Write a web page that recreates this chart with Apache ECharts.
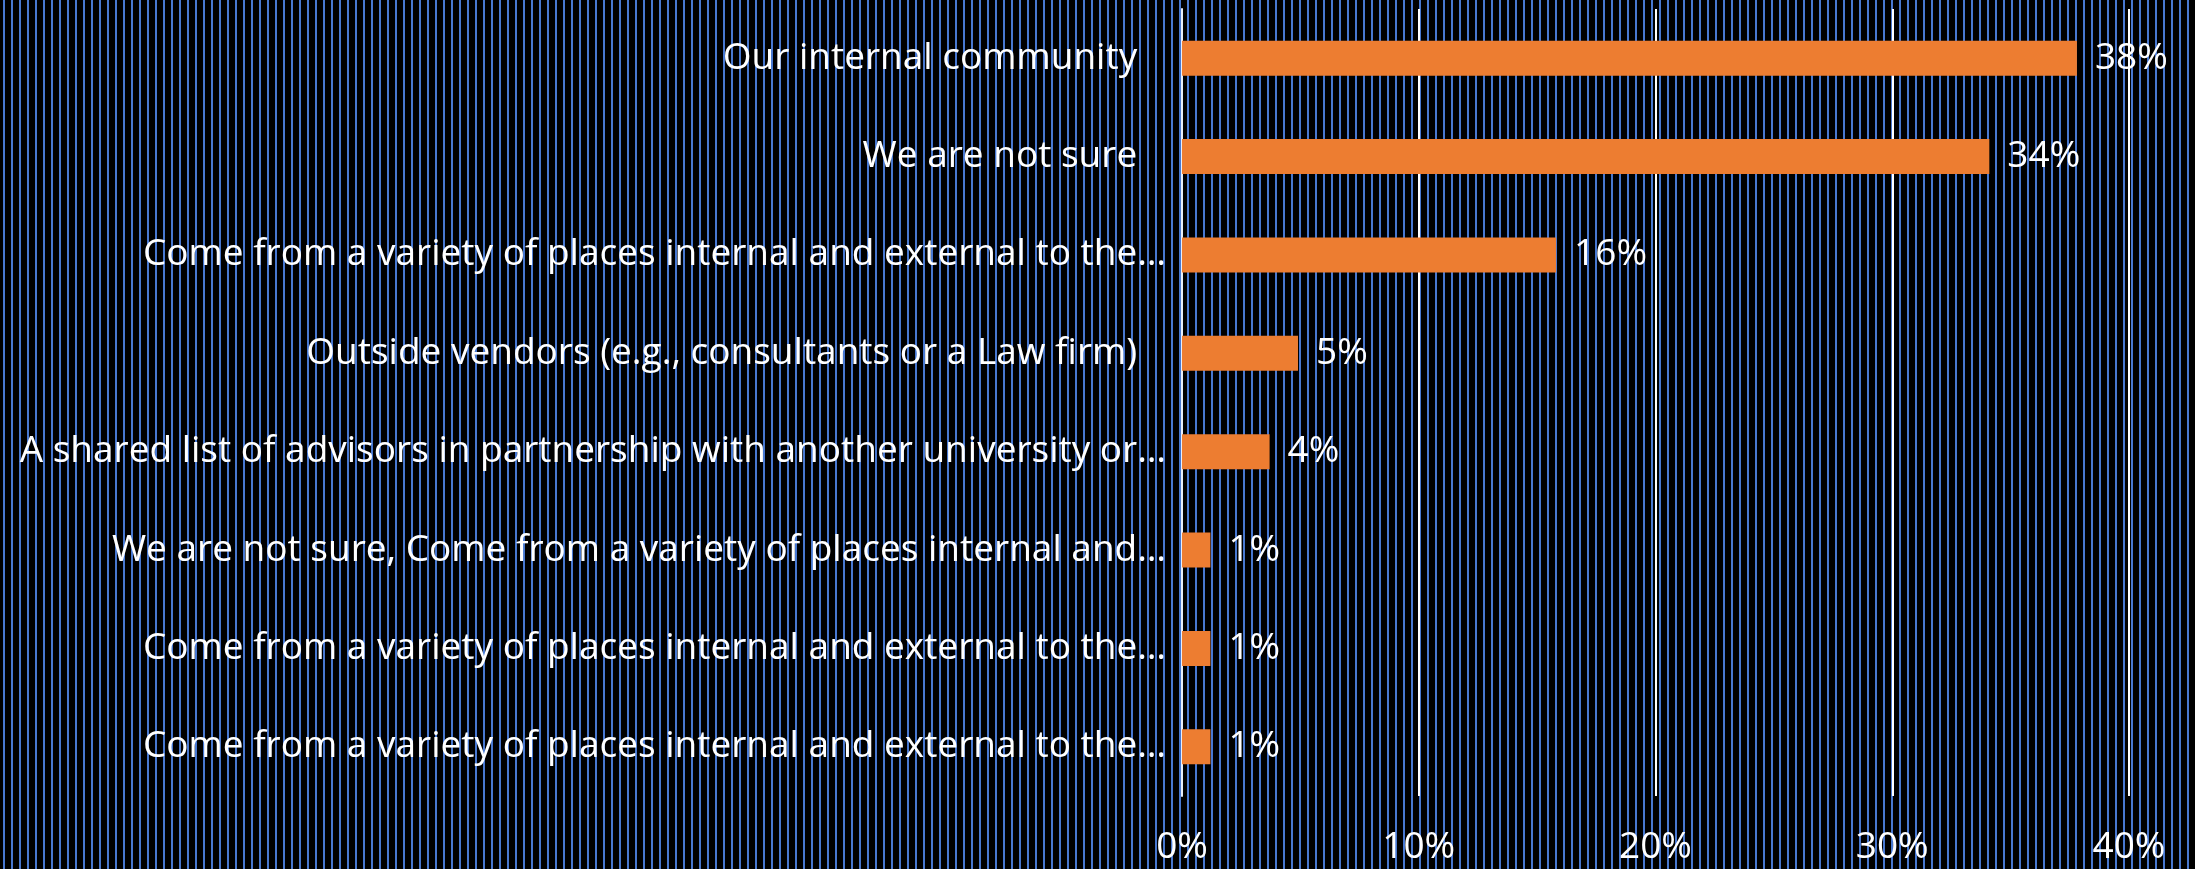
<!DOCTYPE html>
<html>
<head>
<meta charset="utf-8">
<script src="https://cdn.jsdelivr.net/npm/echarts@6/dist/echarts.min.js"></script>
<style>
  html, body { margin: 0; padding: 0; background: #000; }
  #chart {
    width: 2195px; height: 869px;
    background: repeating-linear-gradient(90deg, #000 0px, #000 3px, #4878d0 3px, #4878d0 5px, #000 5px, #000 8px);
  }
</style>
</head>
<body>
<div id="chart"></div>
<script>
  // answers, top to bottom
  var categories = [
    'Our internal community   ',
    'We are not sure   ',
    'Come from a variety of places internal and external to the…',
    'Outside vendors (e.g., consultants or a Law firm)   ',
    'A shared list of advisors in partnership with another university or…',
    'We are not sure, Come from a variety of places internal and…',
    'Come from a variety of places internal and external to the…',
    'Come from a variety of places internal and external to the…'
  ]
  // share of respondents, percent
  var shares = [37.8, 34.1, 15.8, 4.9, 3.7, 1.2, 1.2, 1.2]
  var xTicks = [0, 10, 20, 30, 40]

  var chart = echarts.init(document.getElementById('chart'))
  chart.setOption({
    backgroundColor: 'transparent',
    animation: false,
    textStyle: { fontFamily: 'Open Sans' },
    grid: { left: 1182, right: 66, top: 9, bottom: 73, containLabel: false },
    xAxis: {
      type: 'value',
      min: xTicks[0],
      max: xTicks[xTicks.length - 1],
      interval: 10,
      axisLine: { show: false },
      axisTick: { show: false },
      splitLine: { show: true, lineStyle: { color: '#ffffff', width: 2 } },
      axisLabel: {
        color: '#ffffff', fontSize: 37, margin: 33,
        formatter: function (v) { return v + '%' }
      }
    },
    yAxis: {
      type: 'category',
      inverse: true,
      data: categories,
      axisLine: { show: true, lineStyle: { color: '#e8eefa', width: 2 } },
      axisTick: { show: false },
      axisLabel: { color: '#ffffff', fontSize: 37, margin: 16 }
    },
    series: [{
      type: 'bar',
      data: shares,
      barWidth: 35,
      itemStyle: { color: '#ed7d31' },
      label: {
        show: true,
        position: 'right',
        distance: 18,
        color: '#ffffff',
        fontSize: 37,
        formatter: function (p) { return Math.round(p.value) + '%' }
      }
    }]
  })
</script>
</body>
</html>
